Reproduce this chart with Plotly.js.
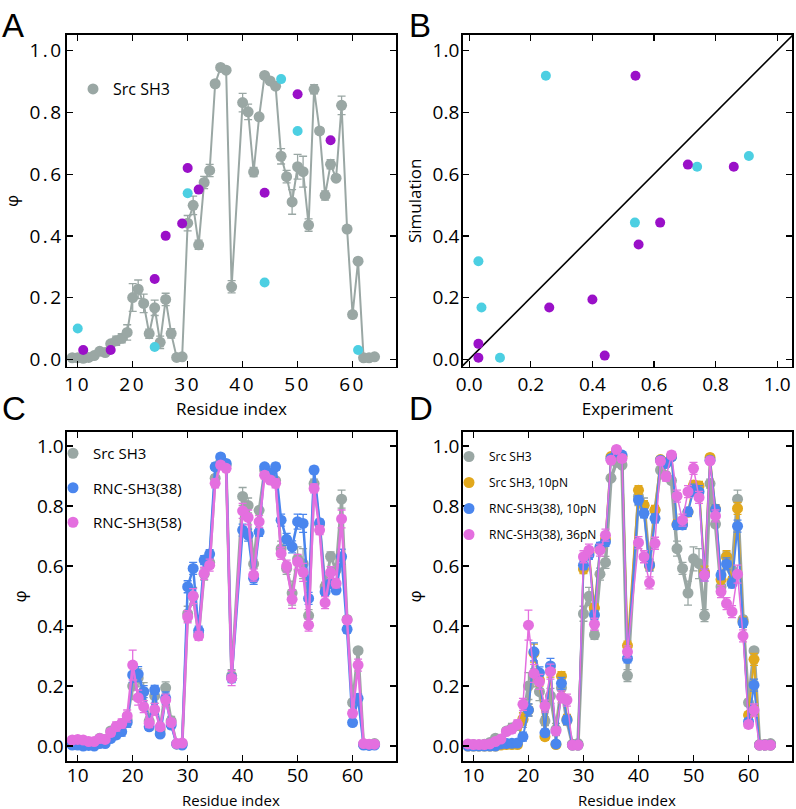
<!DOCTYPE html>
<html><head><meta charset="utf-8">
<script src="https://cdn.plot.ly/plotly-3.0.1.min.js"></script>
<style>
html,body{margin:0;padding:0;background:#fff;}
#chart{width:796px;height:809px;}
.xtick text,.ytick text{letter-spacing:2.5px;}
</style>
</head><body><div id="chart"></div>
<script>
// ---- data ----
const residues = [9,10,11,12,13,14,15,16,17,18,19,20,21,22,23,24,25,26,27,28,29,30,31,32,33,34,35,36,37,38,
  40,41,42,43,44,45,46,47,48,49,50,51,52,53,54,55,56,57,58,59,60,61,62,63,64];

const srcPhi = [0.005,0.005,0.003,0.006,0.012,0.026,0.022,0.05,0.06,0.068,0.087,0.20,0.227,0.181,0.083,0.167,0.055,0.194,0.084,0.006,0.008,0.441,0.499,0.371,0.573,0.612,0.893,0.946,0.937,0.235,
  0.832,0.802,0.607,0.786,0.92,0.902,0.885,0.658,0.592,0.51,0.624,0.608,0.435,0.875,0.74,0.531,0.632,0.587,0.823,0.422,0.145,0.318,0.005,0.005,0.008];
const srcErr = [0.005,0.005,0.005,0.005,0.005,0.005,0.005,0.01,0.015,0.015,0.025,0.045,0.03,0.03,0.015,0.025,0.02,0.02,0.015,0.005,0.005,0.025,0.03,0.015,0.02,0.02,0.01,0.005,0.005,0.02,
  0.03,0.025,0.015,0.01,0.005,0.01,0.01,0.025,0.02,0.04,0.04,0.05,0.02,0.015,0.01,0.015,0.015,0.01,0.03,0.01,0.01,0.01,0.005,0.005,0.005];

const rnc38Phi = [0.003,0.003,0.0,0.002,0.0,0.008,0.008,0.025,0.037,0.048,0.078,0.237,0.24,0.181,0.064,0.187,0.04,0.16,0.07,0.007,0.003,0.531,0.592,0.385,0.62,0.64,0.931,0.964,0.942,0.226,
  0.72,0.703,0.559,0.714,0.931,0.91,0.931,0.753,0.689,0.664,0.748,0.742,0.492,0.92,0.744,0.514,0.542,0.52,0.631,0.389,0.078,0.159,0.003,0.002,0.003];
const rnc38Err = [0.005,0.005,0.005,0.005,0.005,0.005,0.008,0.01,0.012,0.015,0.015,0.025,0.025,0.02,0.012,0.015,0.01,0.02,0.012,0.005,0.005,0.02,0.02,0.015,0.015,0.015,0.012,0.01,0.01,0.015,
  0.02,0.02,0.02,0.015,0.01,0.012,0.012,0.02,0.02,0.02,0.025,0.03,0.02,0.012,0.012,0.015,0.015,0.012,0.025,0.012,0.01,0.015,0.005,0.005,0.005];

const rnc58Phi = [0.02,0.022,0.02,0.015,0.015,0.025,0.022,0.045,0.065,0.075,0.10,0.27,0.161,0.131,0.076,0.122,0.064,0.153,0.078,0.008,0.01,0.431,0.50,0.367,0.576,0.603,0.876,0.937,0.926,0.226,
  0.784,0.762,0.57,0.748,0.903,0.887,0.876,0.642,0.60,0.489,0.614,0.579,0.403,0.859,0.72,0.478,0.578,0.542,0.757,0.42,0.109,0.27,0.008,0.006,0.006];
const rnc58Err = [0.008,0.008,0.008,0.008,0.008,0.008,0.008,0.012,0.015,0.015,0.02,0.05,0.025,0.02,0.015,0.02,0.012,0.02,0.012,0.005,0.005,0.02,0.025,0.015,0.02,0.02,0.015,0.01,0.01,0.025,
  0.025,0.025,0.02,0.02,0.012,0.012,0.015,0.02,0.02,0.03,0.025,0.03,0.02,0.015,0.015,0.02,0.02,0.015,0.03,0.012,0.012,0.02,0.005,0.005,0.005];

const src10Phi = [0.0,0.0,0.0,0.0,0.0,0.0,0.003,0.005,0.005,0.005,0.09,0.12,0.31,0.22,0.031,0.25,0.005,0.233,0.09,0.003,0.003,0.59,0.645,0.46,0.66,0.69,0.965,0.985,0.965,0.335,
  0.853,0.803,0.60,0.787,0.955,0.945,0.965,0.74,0.74,0.78,0.87,0.867,0.58,0.962,0.79,0.555,0.631,0.55,0.792,0.415,0.103,0.289,0.003,0.003,0.003];
const src10Err = [0.005,0.005,0.005,0.005,0.005,0.005,0.005,0.008,0.008,0.01,0.02,0.02,0.03,0.02,0.012,0.02,0.01,0.015,0.015,0.005,0.005,0.015,0.015,0.015,0.015,0.015,0.01,0.01,0.01,0.015,
  0.015,0.015,0.015,0.015,0.01,0.01,0.01,0.015,0.015,0.015,0.015,0.015,0.02,0.01,0.015,0.02,0.02,0.015,0.02,0.015,0.01,0.02,0.005,0.005,0.005];

const rnc10Phi = [0.0,0.0,0.0,0.0,0.0,0.0,0.007,0.008,0.009,0.01,0.031,0.12,0.314,0.244,0.044,0.267,0.007,0.209,0.087,0.003,0.003,0.603,0.637,0.437,0.664,0.681,0.959,0.981,0.97,0.292,
  0.82,0.776,0.603,0.759,0.953,0.942,0.964,0.737,0.737,0.781,0.853,0.848,0.57,0.953,0.789,0.57,0.607,0.542,0.733,0.411,0.081,0.203,0.003,0.003,0.003];
const rnc10Err = [0.005,0.005,0.005,0.005,0.005,0.005,0.006,0.008,0.008,0.01,0.015,0.02,0.03,0.02,0.012,0.025,0.008,0.02,0.015,0.005,0.005,0.015,0.015,0.015,0.015,0.015,0.01,0.01,0.01,0.015,
  0.015,0.015,0.02,0.015,0.01,0.01,0.01,0.015,0.015,0.015,0.02,0.02,0.02,0.01,0.015,0.015,0.02,0.015,0.02,0.015,0.01,0.02,0.005,0.005,0.005];

const rnc36Phi = [0.007,0.005,0.005,0.005,0.007,0.015,0.023,0.048,0.056,0.072,0.139,0.403,0.242,0.214,0.133,0.248,0.05,0.164,0.153,0.003,0.003,0.631,0.653,0.406,0.653,0.703,0.953,0.989,0.959,0.314,
  0.678,0.631,0.544,0.676,0.95,0.898,0.97,0.833,0.753,0.848,0.926,0.829,0.57,0.951,0.767,0.515,0.475,0.448,0.573,0.367,0.072,0.12,0.003,0.003,0.003];
const rnc36Err = [0.005,0.005,0.005,0.005,0.005,0.006,0.008,0.01,0.012,0.015,0.02,0.05,0.03,0.025,0.02,0.025,0.012,0.02,0.02,0.005,0.005,0.02,0.02,0.02,0.02,0.02,0.012,0.01,0.012,0.02,
  0.02,0.02,0.02,0.02,0.012,0.015,0.012,0.02,0.02,0.02,0.02,0.02,0.02,0.012,0.02,0.02,0.02,0.02,0.03,0.02,0.012,0.02,0.005,0.005,0.005];

// Panel A experimental points and panel B comparison
const cyanRes = [10,24,30,44,47,50,61];
const cyanExp = [0.10,0.04,0.538,0.249,0.908,0.74,0.03];
const purpleRes = [11,16,24,26,29,30,32,44,50,56];
const purpleExp = [0.03,0.03,0.26,0.40,0.44,0.62,0.55,0.54,0.859,0.71];
const cyanSim = [0.005,0.168,0.443,0.919,0.659,0.624,0.318];
const purpleSim = [0.005,0.05,0.168,0.194,0.012,0.443,0.372,0.919,0.624,0.631];
const diagonal = [-0.1,1.2];

const tickVals = [0,0.2,0.4,0.6,0.8,1.0];
const tickText = ['0.0','0.2','0.4','0.6','0.8','1.0'];
const resTicks = [10,20,30,40,50,60];

// ---- styles ----
const C = {gray:'#9aa7a4', cyan:'#4ccfe2', purple:'#9a10c8', blue:'#4a86ee', pink:'#e46fdf', gold:'#e2a81c'};
const FONT = 'Open Sans, Noto Sans, sans-serif';

function series(x, y, err, color, xa, ya, lw, ms){
  return {type:'scatter', mode:'lines+markers', x:x, y:y,
    xaxis:xa, yaxis:ya, showlegend:false,
    line:{color:color, width:lw}, marker:{color:color, size:ms},
    error_y:{type:'data', array:err, visible:true, color:color, thickness:1.3, width:4}};
}
// legend-only entry (marker glyph, no line)
function key(name, color, lg, xa, ya){
  return {type:'scatter', mode:'markers', x:[null], y:[null], name:name, xaxis:xa, yaxis:ya,
    legend:lg, legendgroup:lg+name, showlegend:true, marker:{color:color, size:11},
    error_y:{type:'data', array:[0.03], visible:true, color:color, thickness:1.3, width:4}};
}
function dots(x, y, color, xa, ya){
  return {type:'scatter', mode:'markers', x:x, y:y, xaxis:xa, yaxis:ya, showlegend:false,
    marker:{color:color, size:10}};
}

const traces = [
  series(residues, srcPhi, srcErr, C.gray, 'x', 'y', 2, 11),
  dots(cyanRes, cyanExp, C.cyan, 'x', 'y'),
  dots(purpleRes, purpleExp, C.purple, 'x', 'y'),
  key('Src SH3', C.gray, 'legend', 'x', 'y'),
  {type:'scatter', mode:'lines', x:diagonal, y:diagonal, xaxis:'x2', yaxis:'y2', showlegend:false, line:{color:'#000', width:1.6}},
  dots(cyanExp, cyanSim, C.cyan, 'x2', 'y2'),
  dots(purpleExp, purpleSim, C.purple, 'x2', 'y2'),
  series(residues, srcPhi, srcErr, C.gray, 'x3', 'y3', 3, 11),
  series(residues, rnc38Phi, rnc38Err, C.blue, 'x3', 'y3', 2.5, 11),
  series(residues, rnc58Phi, rnc58Err, C.pink, 'x3', 'y3', 2.5, 11),
  key('Src SH3', C.gray, 'legend2', 'x3', 'y3'),
  key('RNC-SH3(38)', C.blue, 'legend2', 'x3', 'y3'),
  key('RNC-SH3(58)', C.pink, 'legend2', 'x3', 'y3'),
  series(residues, srcPhi, srcErr, C.gray, 'x4', 'y4', 3.5, 11),
  series(residues, src10Phi, src10Err, C.gold, 'x4', 'y4', 2, 11),
  series(residues, rnc10Phi, rnc10Err, C.blue, 'x4', 'y4', 2, 11),
  series(residues, rnc36Phi, rnc36Err, C.pink, 'x4', 'y4', 1.5, 11),
  key('Src SH3', C.gray, 'legend3', 'x4', 'y4'),
  key('Src SH3, 10pN', C.gold, 'legend3', 'x4', 'y4'),
  key('RNC-SH3(38), 10pN', C.blue, 'legend3', 'x4', 'y4'),
  key('RNC-SH3(38), 36pN', C.pink, 'legend3', 'x4', 'y4')
];

const W = 796, H = 809;
function px(a){return a/W;}
function py(b){return 1-b/H;}
const tickFont = {family:FONT, size:19, color:'#000'};
const titleFont = {family:FONT, size:17, color:'#000'};

function xax(dom, rng, tv, tt, title, standoff){
  const a = {domain:dom, range:rng, tickvals:tv, showline:true, mirror:'ticks', linecolor:'#000', linewidth:1.6,
    ticks:'inside', ticklen:6, tickwidth:1.3, tickcolor:'#000', showgrid:false, zeroline:false, tickfont:tickFont,
    automargin:false, ticklabelstandoff:standoff};
  if (tt) a.ticktext = tt;
  if (title) a.title = {text:title, font:titleFont, standoff:4};
  return a;
}
function yax(dom, rng, title, anchor){
  return {domain:dom, range:rng, tickvals:tickVals, ticktext:tickText, showline:true, mirror:'ticks', linecolor:'#000', linewidth:1.6,
    ticks:'inside', ticklen:6, tickwidth:1.3, tickcolor:'#000', showgrid:false, zeroline:false, tickfont:tickFont,
    title:{text:title, font:titleFont, standoff:6}, automargin:false, anchor:anchor, ticklabelstandoff:-2};
}

const domL = [px(67), px(396)], domR = [px(462.7), px(792)];
const domT = [py(366.7), py(35)], domB = [py(761), py(431.7)];
const resRange = [8.05, 67.9];

const legendBase = {font:{family:FONT, size:16, color:'#000'}, bgcolor:'rgba(0,0,0,0)', borderwidth:0,
  xanchor:'left', yanchor:'top', traceorder:'grouped'};
const letterFont = {family:'Liberation Sans, Arial, sans-serif', size:33, color:'#000'};
const bottomTitleFont = {family:FONT, size:15, color:'#000'};
const axTitle = {xref:'paper', yref:'paper', showarrow:false, xanchor:'center', yanchor:'top', font:bottomTitleFont};

const layout = {
  width:W, height:H, margin:{l:0,r:0,t:0,b:0}, paper_bgcolor:'#fff', plot_bgcolor:'#fff',
  font:{family:FONT, color:'#000'},
  xaxis: xax(domL, resRange, resTicks, null, 'Residue index', 0),
  yaxis: yax(domT, [-0.024, 1.051], 'φ', 'x'),
  xaxis2: Object.assign(xax(domR, [-0.021, 1.048], tickVals, tickText, 'Experiment', 0), {anchor:'y2'}),
  yaxis2: yax(domT, [-0.024, 1.051], 'Simulation', 'x2'),
  xaxis3: Object.assign(xax(domL, resRange, resTicks, null, null, -3), {anchor:'y3'}),
  yaxis3: yax(domB, [-0.05, 1.048], 'φ', 'x3'),
  xaxis4: Object.assign(xax(domR, resRange, resTicks, null, null, -3), {anchor:'y4'}),
  yaxis4: yax(domB, [-0.05, 1.048], 'φ', 'x4'),
  legend: Object.assign({}, legendBase, {x:px(73), y:py(72)}),
  legend2: Object.assign({}, legendBase, {x:px(53), y:py(437), font:{family:FONT, size:15, color:'#000'}, tracegroupgap:12}),
  legend3: Object.assign({}, legendBase, {x:px(449), y:py(442), font:{family:FONT, size:12, color:'#000'}, tracegroupgap:7}),
  showlegend:true,
  annotations:[
    {text:'A', xref:'paper', yref:'paper', x:px(0), y:py(5), xanchor:'left', yanchor:'top', showarrow:false, font:letterFont},
    {text:'B', xref:'paper', yref:'paper', x:px(407), y:py(5), xanchor:'left', yanchor:'top', showarrow:false, font:letterFont},
    {text:'C', xref:'paper', yref:'paper', x:px(0), y:py(388), xanchor:'left', yanchor:'top', showarrow:false, font:letterFont},
    {text:'D', xref:'paper', yref:'paper', x:px(407), y:py(388), xanchor:'left', yanchor:'top', showarrow:false, font:letterFont},
    Object.assign({text:'Residue index', x:px(231), y:py(788)}, axTitle),
    Object.assign({text:'Residue index', x:px(627), y:py(788)}, axTitle)
  ]
};

Plotly.newPlot('chart', traces, layout, {displayModeBar:false, staticPlot:true});
</script>
</body></html>
